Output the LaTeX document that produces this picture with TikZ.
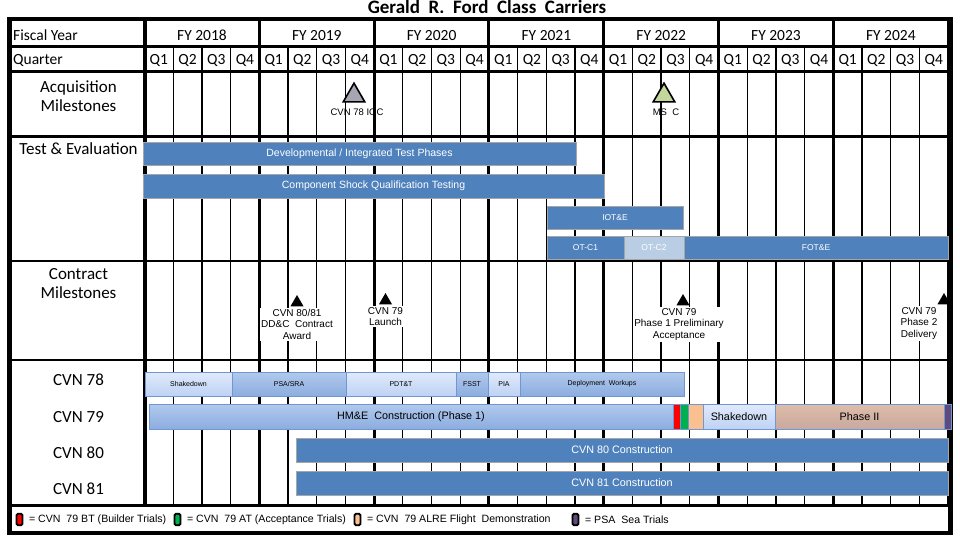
\documentclass[tikz,border=0pt]{standalone}
\usepackage{fontspec}
\setmainfont{Carlito}
\newfontfamily\arialfont{Liberation Sans}
\usetikzlibrary{positioning,shapes.geometric}
\definecolor{barblue}{HTML}{4F81BD}
\definecolor{baredge}{HTML}{A6A6A6}
\definecolor{barpale}{HTML}{B9CDE5}
\definecolor{shiptop}{HTML}{E0EAFB}
\definecolor{shipbot}{HTML}{BED2F4}
\definecolor{shipmidtop}{HTML}{B1C9EC}
\definecolor{shipmidbot}{HTML}{8CADE0}
\definecolor{shipedge}{HTML}{6F98D2}
\definecolor{phasetop}{HTML}{DEBDA9}
\definecolor{phasebot}{HTML}{C9A89F}
\definecolor{btred}{HTML}{FF0000}
\definecolor{atgreen}{HTML}{00B050}
\definecolor{alreorange}{HTML}{FAC090}
\definecolor{psapurple}{HTML}{604A7B}
\definecolor{iocgray}{HTML}{A6A6B2}
\definecolor{mscgreen}{HTML}{C3D69B}
\tikzset{
  headlabel/.style={font=\fontsize{15.5}{18}\selectfont, inner sep=0pt, anchor=base},
  rowlabel/.style={font=\fontsize{17}{19}\selectfont, align=center, inner sep=0pt, anchor=base},
  frameline/.style={line width=4.5pt},
  yearline/.style={line width=3pt},
  qline/.style={line width=1.3pt},
  bar/.style={anchor=north west, inner sep=0pt, outer sep=0pt},
  tebar/.style={bar, draw=baredge, line width=0.8pt, fill=barblue, text=white,
    font=\arialfont\fontsize{10.5}{12}\selectfont},
  tesmall/.style={tebar, font=\arialfont\fontsize{8.5}{10}\selectfont},
  shipbar/.style={bar, draw=shipedge, line width=0.8pt, font=\arialfont\fontsize{7}{8}\selectfont},
  lightbar/.style={shipbar, top color=shiptop, bottom color=shipbot},
  midbar/.style={shipbar, top color=shipmidtop, bottom color=shipmidbot},
  bigtext/.style={font=\arialfont\fontsize{10.8}{12}\selectfont},
  flagbar/.style={bar, draw=shipedge, line width=0.8pt},
  milestone/.style={regular polygon, regular polygon sides=3, inner sep=0pt,
    minimum size=25pt, draw=black, line width=1.6pt},
  contractmark/.style={regular polygon, regular polygon sides=3, inner sep=0pt,
    minimum size=15pt, fill=black},
  smalltext/.style={font=\arialfont\fontsize{9.5}{11}\selectfont, inner sep=0pt},
  contracttext/.style={font=\arialfont\fontsize{10}{11.5}\selectfont, fill=white,
    align=center, inner sep=1.5pt},
  keybox/.style={draw=black, line width=1.8pt, rounded corners=1.5pt,
    minimum width=6pt, minimum height=11.5pt, inner sep=0pt},
  keytext/.style={font=\arialfont\fontsize{10.6}{12}\selectfont, inner sep=0pt}
}
\begin{document}
\begin{tikzpicture}[x=1pt, y=-1pt]
  \useasboundingbox (0,0) rectangle (960,540);
  \node[font=\bfseries\fontsize{19}{21}\selectfont, anchor=base] (title) at (487,14) {Gerald~ R.~ Ford~ Class~ Carriers};

  % grid
  \foreach \q in {1,...,27}
    \draw[qline] ({144.5+28.7*\q},46.5) -- ({144.5+28.7*\q},505.5);
  \foreach \y in {1,...,7}
    \draw[yearline] ({144.5+114.8*\y},19) -- ({144.5+114.8*\y},505.5);
  \draw[line width=4pt] (144.5,19) -- (144.5,505.5);
  \foreach \r/\w in {46.5/3, 71.5/3, 136.5/2.5, 261/2, 360/2, 505.5/3.5}
    \draw[line width=\w pt] (9.5,\r) -- (950,\r);
  \draw[frameline] (9.5,19) rectangle (950.5,533);

  % headers
  \node[headlabel, anchor=base west] (fyhead) at (13,40.5) {Fiscal Year};
  \node[headlabel, anchor=base west] (qhead) at (13,65) {Quarter};
  \foreach \fy [count=\i from 0] in {2018,...,2024}
    \node[headlabel] (fy\fy) at ({202+114.8*\i},40.5) {FY \fy};
  \foreach \i in {0,...,27} {
    \pgfmathtruncatemacro\qn{mod(\i,4)+1}
    \node[headlabel] (q\i) at ({158.85+28.7*\i},65) {Q\qn};
  }

  % row labels (base = last line)
  \node[rowlabel] (acqlabel) at (78.5,111.7) {Acquisition\\Milestones};
  \node[rowlabel] (telabel) at (78.5,155) {Test \& Evaluation};
  \node[rowlabel] (conlabel) at (78.5,298.3) {Contract\\Milestones};
  \node[rowlabel] (cvn78) at (78.5,385.5) {CVN 78};
  \node[rowlabel] (cvn79) at (78.5,422) {CVN 79};
  \node[rowlabel] (cvn80) at (78.5,458) {CVN 80};
  \node[rowlabel] (cvn81) at (78.5,494) {CVN 81};

  % acquisition milestones
  \node[milestone, fill=iocgray] (ioc) at (354,95.7) {};
  \node[smalltext, anchor=base] (ioctxt) at (357,115.5) {CVN 78 IOC};
  \node[milestone, fill=mscgreen] (msc) at (664,95.7) {};
  \node[smalltext, anchor=base] (msctxt) at (666,115.5) {MS~ C};

  % test and evaluation
  \node[tebar, minimum width=433, minimum height=23] (devtest) at (143,142) {Developmental / Integrated Test Phases};
  \node[tebar, minimum width=461, minimum height=24] (shock) at (143,174) {Component Shock Qualification Testing};
  \node[tesmall, minimum width=136, minimum height=23] (iote) at (547,206) {IOT\&E};
  \node[tesmall, minimum width=77, minimum height=23] (otcone) at (547,236) {OT-C1};
  \node[tesmall, fill=barpale, minimum width=60, minimum height=23] (otctwo) at (624,236) {OT-C2};
  \node[tesmall, minimum width=264, minimum height=23] (fote) at (684,236) {FOT\&E};

  % contract milestones
  \node[contractmark] (award) at (297,302.5) {};
  \node[contracttext, below=1pt of award] (awardtxt) {CVN 80/81\\DD\&C~~Contract\\Award};
  \node[contractmark] (launch) at (385.5,300.5) {};
  \node[contracttext, below=1pt of launch] (launchtxt) {CVN 79\\Launch};
  \node[contractmark] (accept) at (683,301.5) {};
  \node[contracttext, below=1pt of accept, xshift=-4pt] (accepttxt) {CVN 79\\Phase 1 Preliminary\\Acceptance};
  \node[contractmark] (deliver) at (944,300.5) {};
  \node[contracttext, below=1pt of deliver, xshift=-25pt] (delivertxt) {CVN 79\\Phase 2\\Delivery};

  % CVN 78
  \node[lightbar, minimum width=87, minimum height=24] (sdone) at (145,372) {Shakedown};
  \node[midbar, minimum width=114, minimum height=24] (psasra) at (232,372) {PSA/SRA};
  \node[lightbar, minimum width=110, minimum height=24] (pdtt) at (346,372) {PDT\&T};
  \node[midbar, minimum width=32, minimum height=24] (fsst) at (456,372) {FSST};
  \node[lightbar, minimum width=32, minimum height=24] (pia) at (488,372) {PIA};
  \node[midbar, minimum width=164, minimum height=24] (workups) at (520,372) {Deployment~ Workups};

  % CVN 79
  \node[midbar, bigtext, minimum width=524, minimum height=25] (hme) at (149,404) {HM\&E~ Construction (Phase 1)};
  \node[flagbar, fill=btred, minimum width=7, minimum height=25] (bt) at (673,404) {};
  \node[flagbar, fill=atgreen, minimum width=8, minimum height=25] (at) at (680,404) {};
  \node[flagbar, fill=alreorange, minimum width=15, minimum height=25] (alre) at (688,404) {};
  \node[lightbar, bigtext, minimum width=72, minimum height=25] (sdtwo) at (703,404) {Shakedown};
  \node[shipbar, bigtext, top color=phasetop, bottom color=phasebot, minimum width=169, minimum height=25] (phasetwo) at (775,404) {Phase II};
  \node[flagbar, fill=psapurple, minimum width=7, minimum height=25] (psatrial) at (944,404) {};

  % CVN 80 / 81
  \node[tebar, bigtext, minimum width=652, minimum height=24] (cons80) at (296,438) {CVN 80 Construction};
  \node[tebar, bigtext, minimum width=652, minimum height=24] (cons81) at (296,471) {CVN 81 Construction};

  % legend
  \node[keybox, fill=btred] (keybt) at (19.5,519.5) {};
  \node[keytext, right=5.5pt of keybt] (txtbt) {= CVN~ 79 BT (Builder Trials)};
  \node[keybox, fill=atgreen] (keyat) at (177.5,519.5) {};
  \node[keytext, right=5.5pt of keyat] (txtat) {= CVN~ 79 AT (Acceptance Trials)};
  \node[keybox, fill=alreorange] (keyalre) at (357.5,519.5) {};
  \node[keytext, right=5.5pt of keyalre] (txtalre) {= CVN~ 79 ALRE Flight~ Demonstration};
  \node[keybox, fill=psapurple] (keypsa) at (575.5,519.5) {};
  \node[keytext, right=5.5pt of keypsa] (txtpsa) {= PSA~ Sea Trials};
\end{tikzpicture}
\end{document}
